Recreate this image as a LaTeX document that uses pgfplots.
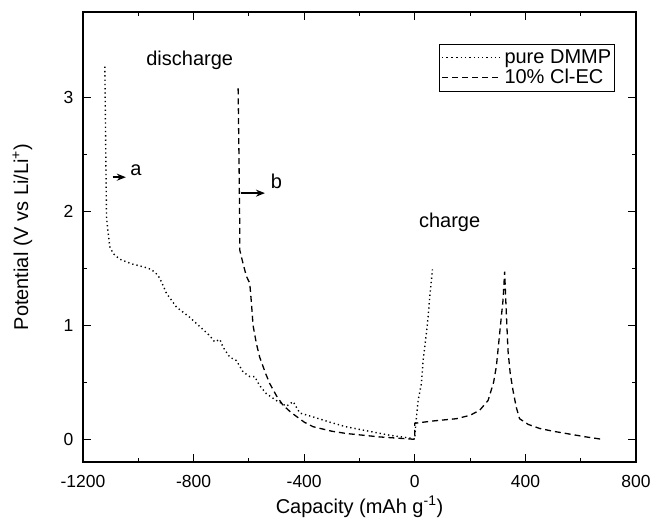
\documentclass[border=0pt]{standalone}
\usepackage{pgfplots}
\pgfplotsset{compat=1.18}
\usepackage{fontspec}
\setmainfont{Liberation Sans}
\usetikzlibrary{arrows.meta}
\begin{document}
\begin{tikzpicture}
\begin{axis}[
  name=ax,
  scale only axis,
  width=553bp, height=450bp,
  xmin=-1200, xmax=800, ymin=-0.2, ymax=3.75,
  xtick={-1200,-800,-400,0,400,800},
  ytick={0,1,2,3},
  minor x tick num=1, minor y tick num=1,
  tick align=inside,
  major tick length=8bp, minor tick length=4bp,
  every tick/.style={black, line width=0.9pt},
  axis line style={line width=1.1pt},
  tick label style={font=\fontsize{17.5bp}{21bp}\selectfont},
  /pgf/number format/assume math mode=true,
  /pgf/number format/set thousands separator={},
  xticklabel style={yshift=-10bp},
  yticklabel style={xshift=-6bp},
  legend style={at={(rel axis cs:0.962,0.929)}, anchor=north east,
    font=\fontsize{20bp}{24bp}\selectfont, draw=black, line width=0.6pt,
    inner xsep=2bp, inner ysep=4bp, row sep=1.5bp,
    nodes={inner sep=1.5bp}},
  legend cell align=left,
  legend image code/.code={\path (0cm,0cm) -- (0.35cm,0cm); \draw[#1] (0.35cm,0cm) -- (2.05cm,0cm);},
]
\addplot[black, line width=1.4pt, dash pattern=on 1.3pt off 3pt] coordinates {
(-1121,3.27) (-1118,2.6) (-1115,1.95) (-1109,1.81) (-1103,1.69) (-1091,1.63)
(-1067,1.58) (-1025,1.54) (-977,1.51) (-953,1.49) (-929,1.44) (-916,1.38)
(-898,1.28) (-862,1.16) (-814,1.07) (-778,0.99) (-742,0.91) (-724,0.855)
(-705,0.876) (-694,0.81) (-669,0.72) (-645,0.69) (-621,0.59) (-597,0.55)
(-579,0.55) (-561,0.47) (-537,0.40) (-501,0.34) (-464,0.29) (-440,0.33)
(-416,0.23) (-360,0.19) (-308,0.15) (-250,0.11) (-187,0.08) (-91,0.035)
(-6,0.006) (0,0) (3,0.12) (12,0.34) (24,0.49) (30,0.69) (42,0.93) (48,1.07)
(54,1.25) (64,1.49)
};
\addlegendentry{\hspace{2bp}pure DMMP}
\addplot[black, line width=1.3pt, dash pattern=on 6pt off 4pt] coordinates {
(-639,3.08) (-636,2.5) (-633,1.84) (-633,1.66) (-621,1.54) (-609,1.43)
(-597,1.37) (-591,1.2) (-585,1.0) (-573,0.84) (-561,0.72) (-540,0.58)
(-525,0.49) (-500,0.38) (-477,0.30) (-450,0.24) (-428,0.20) (-400,0.15)
(-368,0.11) (-300,0.07) (-247,0.05) (-127,0.02) (-6,0.0) (0,0) (0,0.14)
(66,0.16) (150,0.18) (200,0.21) (235,0.255) (265,0.34) (285,0.5) (295,0.64)
(307,0.93) (319,1.22) (325,1.47) (329,1.22) (337,0.78) (345,0.58) (355,0.43)
(367,0.28) (379,0.18) (410,0.13) (452,0.094) (500,0.07) (548,0.05) (620,0.02)
(675,0.0)
};
\addlegendentry{\hspace{2bp}10\% Cl-EC}
\draw[line width=1.5pt, -{Stealth[length=9bp,width=7bp]}] (axis cs:-1093,2.30) -- (axis cs:-1045,2.30);
\draw[line width=1.4pt, -{Stealth[length=9bp,width=7bp]}] (axis cs:-627,2.16) -- (axis cs:-542,2.16);
\node[font=\fontsize{20bp}{24bp}\selectfont] at (axis cs:-1009,2.36) {a};
\node[font=\fontsize{20bp}{24bp}\selectfont] at (axis cs:-500,2.26) {b};
\node[font=\fontsize{20bp}{24bp}\selectfont] at (axis cs:-814,3.33) {discharge};
\node[font=\fontsize{20bp}{24bp}\selectfont] at (axis cs:126,1.90) {charge};
\end{axis}
\node[anchor=base, font=\fontsize{20bp}{24bp}\selectfont] at ([yshift=-51bp]ax.south) {Capacity (mAh g\textsuperscript{-1})};
\node[anchor=base, rotate=90, font=\fontsize{20bp}{24bp}\selectfont] at ([xshift=-55bp]ax.west) {Potential (V vs Li/Li\textsuperscript{+})};
\pgfresetboundingbox
\path[use as bounding box] (ax.south west) ++(-83bp,-65bp) rectangle ([xshift=16bp,yshift=12bp]ax.north east);
\end{tikzpicture}
\end{document}
